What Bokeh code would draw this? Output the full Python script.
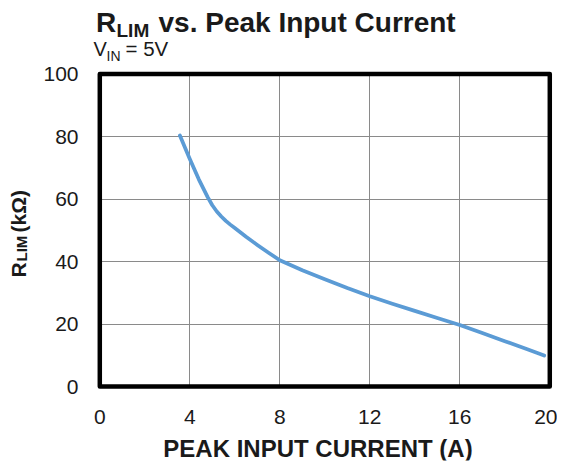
import math
from bokeh.plotting import figure
from bokeh.models import Range1d, FixedTicker, Label
from bokeh.embed import file_html
from bokeh.resources import INLINE

# Data
current_a = [3.56, 4.0, 4.4, 4.6, 4.8, 5.0, 5.2, 5.4, 5.6, 5.8, 6.0, 6.5, 7.0, 7.5, 8.0, 9.0,
             10.0, 11.0, 12.0, 13.0, 14.0, 15.0, 16.0, 17.0, 18.0, 19.0, 19.75]
rlim_kohm = [80.3, 72.8, 66.3, 63.4, 60.5, 58.0, 56.0, 54.4, 53.0, 51.8, 50.7, 47.9, 45.3, 42.8,
             40.4, 37.2, 34.3, 31.5, 28.9, 26.5, 24.2, 21.9, 19.7, 17.1, 14.5, 11.9, 9.9]
x_ticks = [0, 4, 8, 12, 16, 20]
y_ticks = [0, 20, 40, 60, 80, 100]

FONT = "Liberation Sans"
TXT = "#1a1a1a"

# Canvas / frame geometry (pixels). The frame covers almost the whole canvas so that
# title and axis-title labels (drawn as annotations) are not clipped.
W, H = 557, 462
FL, FR, FT, FB = 4, 552, 0, 460          # frame edges in canvas pixels
X0_PX, X_PX_PER = 99.3, 22.5             # where x=0 sits, pixels per ampere
Y0_PX, Y_PX_PER = 386.0, 3.125           # where y=0 sits, pixels per kOhm
SHIFT = 8                                # empirical baseline correction for labels

x_range = Range1d((FL - X0_PX) / X_PX_PER, (FR - X0_PX) / X_PX_PER)
y_range = Range1d((Y0_PX - FB) / Y_PX_PER, (Y0_PX - FT) / Y_PX_PER)

p = figure(width=W, height=H, output_backend="svg", toolbar_location=None,
           x_range=x_range, y_range=y_range,
           min_border_left=FL, min_border_right=W - FR,
           min_border_top=FT, min_border_bottom=H - FB)
p.outline_line_color = None
p.background_fill_color = "white"
p.border_fill_color = "white"

# grid limited to the data box
p.xgrid.ticker = FixedTicker(ticks=x_ticks)
p.ygrid.ticker = FixedTicker(ticks=y_ticks)
p.xgrid.bounds = (x_ticks[0], x_ticks[-1])
p.ygrid.bounds = (y_ticks[0], y_ticks[-1])
p.xgrid.cross_bounds = (y_ticks[0], y_ticks[-1])
p.ygrid.cross_bounds = (x_ticks[0], x_ticks[-1])
p.grid.grid_line_color = "#8a8a8a"
p.grid.grid_line_width = 1

p.line(current_a, rlim_kohm, line_color="#5B9BD5", line_width=3.75,
       line_cap="round", line_join="round")

# thick black box around the data area
p.quad(left=[x_ticks[0]], right=[x_ticks[-1]], bottom=[y_ticks[0]], top=[y_ticks[-1]],
       fill_color=None, line_color="black", line_width=4.5, line_join="round")

p.xaxis.ticker = FixedTicker(ticks=x_ticks)
p.yaxis.ticker = FixedTicker(ticks=y_ticks)
p.xaxis.bounds = (x_ticks[0], x_ticks[-1])
p.yaxis.bounds = (y_ticks[0], y_ticks[-1])
for ax in (p.xaxis, p.yaxis):
    ax.axis_line_color = None
    ax.major_tick_line_color = None
    ax.minor_tick_line_color = None
    ax.major_tick_in = 0
    ax.major_tick_out = 0
    ax.minor_tick_in = 0
    ax.minor_tick_out = 0
    ax.major_label_text_font = FONT
    ax.major_label_text_font_size = "21px"
    ax.major_label_text_color = TXT
p.xaxis.major_label_standoff = -51
p.yaxis.major_label_standoff = -74


def lab(text, page_x, page_y, size, bold=False, angle=0.0, align="left"):
    if angle:
        page_x -= SHIFT
    else:
        page_y -= SHIFT
    p.add_layout(Label(x=page_x - FL, y=FB - page_y, x_units="screen", y_units="screen",
                       text=text, text_font=FONT, text_font_size=f"{size}px",
                       text_font_style="bold" if bold else "normal",
                       text_color=TXT, angle=angle, text_align=align,
                       text_baseline="alphabetic"))


# Title: R_LIM vs. Peak Input Current
lab("R", 95.5, 29.7, 28, bold=True)
lab("LIM", 116, 37.5, 19, bold=True)
lab("vs. Peak Input Current", 158, 29.7, 28, bold=True)
# Subtitle: V_IN = 5V
lab("V", 93, 56, 20)
lab("IN", 106, 63, 14)
lab("= 5V", 125, 56, 20.5)
# Y axis title: R_LIM (kΩ)
lab("R", 25.7, 277, 21, bold=True, angle=math.pi / 2)
lab("LIM", 28.5, 261, 15, bold=True, angle=math.pi / 2)
lab("(kΩ)", 25.7, 232, 21, bold=True, angle=math.pi / 2)
# X axis title
lab("PEAK INPUT CURRENT (A)", 317.5, 455.5, 24, bold=True, align="center")

open("out.html", "w").write(file_html(p, INLINE))
